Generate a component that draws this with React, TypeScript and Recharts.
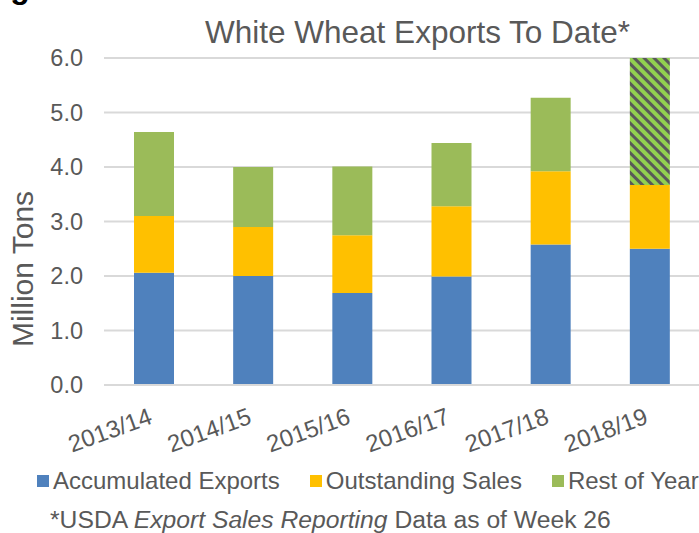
import React from 'react';
import { BarChart, Bar, XAxis, YAxis, CartesianGrid, Legend, Cell } from 'recharts';

const years = ['2013/14', '2014/15', '2015/16', '2016/17', '2017/18', '2018/19'];
const accumulatedExports = [2.06, 2.0, 1.69, 1.99, 2.58, 2.5];
const outstandingSales = [1.04, 0.9, 1.06, 1.29, 1.34, 1.17];
const restOfYear = [1.54, 1.1, 1.26, 1.16, 1.35, 2.33];
const projectedYear = '2018/19';
const yTicks = [0, 1, 2, 3, 4, 5, 6];

const seriesNames = ['Accumulated Exports', 'Outstanding Sales', 'Rest of Year'];
const seriesColors = ['#4F81BD', '#FFC000', '#9BBB59'];

const data = years.map((year, i) => ({
  year,
  acc: accumulatedExports[i],
  out: outstandingSales[i],
  rest: restOfYear[i],
}));

const FONT = '"Liberation Sans", Arial, sans-serif';
const GREY = '#595959';

const XTick = (props: any) => {
  const { x, y, payload } = props;
  const tx = x;
  const ty = y + 36;
  return (
    <text
      x={tx}
      y={ty}
      textAnchor="end"
      fill={GREY}
      fontSize={24}
      fontFamily={FONT}
      transform={`rotate(-20, ${tx}, ${ty})`}
    >
      {payload.value}
    </text>
  );
};

const LegendContent = () => (
  <div style={{ position: 'relative', width: 699, height: 78, fontFamily: FONT, color: GREY }}>
    <div
      style={{
        position: 'absolute',
        left: 37,
        top: 14,
        height: 24,
        display: 'flex',
        alignItems: 'center',
        whiteSpace: 'nowrap',
        fontSize: 24,
        lineHeight: '24px',
      }}
    >
      {seriesNames.map((name, i) => (
        <div key={name} style={{ display: 'flex', alignItems: 'center', marginRight: i < 2 ? 30 : 0 }}>
          <span style={{ display: 'inline-block', width: 12, height: 12, background: seriesColors[i], marginRight: 4 }} />
          <span>{name}</span>
        </div>
      ))}
    </div>
    <div
      style={{
        position: 'absolute',
        left: 50,
        top: 53,
        height: 24,
        whiteSpace: 'nowrap',
        fontSize: 24.7,
        lineHeight: '24px',
      }}
    >
      *USDA <i>Export Sales Reporting</i> Data as of Week 26
    </div>
  </div>
);

export default function App() {
  return (
    <div style={{ position: 'absolute', left: 0, top: 0, width: 699, height: 533, background: '#fff', overflow: 'hidden' }}>
      <BarChart
        width={699}
        height={533}
        data={data}
        margin={{ top: 58, right: 0, left: 0, bottom: 0 }}
        barSize={40}
      >
        <defs>
          <pattern id="hatch" patternUnits="userSpaceOnUse" width="7" height="7" patternTransform="rotate(-45)">
            <rect width="7" height="7" fill="#92D050" />
            <rect width="3" height="7" fill={GREY} />
          </pattern>
        </defs>
        <CartesianGrid vertical={false} stroke="#D9D9D9" strokeWidth={2} />
        <XAxis
          dataKey="year"
          height={70}
          interval={0}
          tickLine={false}
          tickSize={0}
          axisLine={{ stroke: '#D9D9D9', strokeWidth: 2 }}
          tick={<XTick />}
        />
        <YAxis
          width={104}
          domain={[0, 6]}
          ticks={yTicks}
          interval={0}
          axisLine={false}
          tickLine={false}
          tickSize={0}
          tickMargin={21}
          tickFormatter={(v: number) => v.toFixed(1)}
          tick={{ fill: GREY, fontSize: 23.5, fontFamily: FONT }}
        />
        <Legend verticalAlign="bottom" height={78} content={<LegendContent />} wrapperStyle={{ left: 0, width: 699 }} />
        <Bar dataKey="acc" name={seriesNames[0]} stackId="a" fill={seriesColors[0]} isAnimationActive={false} />
        <Bar dataKey="out" name={seriesNames[1]} stackId="a" fill={seriesColors[1]} isAnimationActive={false} />
        <Bar dataKey="rest" name={seriesNames[2]} stackId="a" fill={seriesColors[2]} isAnimationActive={false}>
          {data.map((d) => (
            <Cell key={d.year} fill={d.year === projectedYear ? 'url(#hatch)' : seriesColors[2]} />
          ))}
        </Bar>
      </BarChart>
      <svg width={699} height={533} style={{ position: 'absolute', left: 0, top: 0, pointerEvents: 'none' }}>
        <text x={20} y={-2} textAnchor="middle" fontSize={32} fontWeight="bold" fontFamily={FONT} fill="#000">
          g
        </text>
        <text x={417.5} y={43} textAnchor="middle" fontSize={31.5} fontFamily={FONT} fill={GREY}>
          White Wheat Exports To Date*
        </text>
        <text
          x={33}
          y={269}
          textAnchor="middle"
          fontSize={30}
          fontFamily={FONT}
          fill={GREY}
          transform="rotate(-90, 33, 269)"
        >
          Million Tons
        </text>
      </svg>
    </div>
  );
}
